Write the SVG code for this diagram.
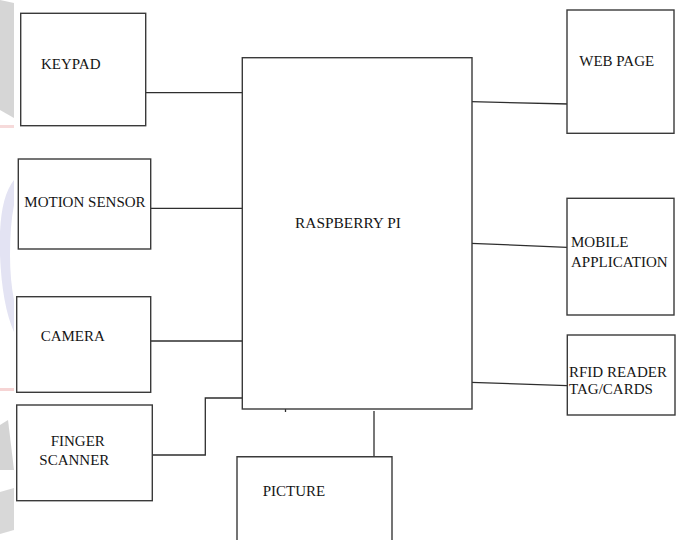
<svg xmlns="http://www.w3.org/2000/svg" width="681" height="540" viewBox="0 0 681 540">
<style>
.box{fill:#fff;stroke:#3a3a3a;stroke-width:1.4}
.lbl{font-family:"Liberation Serif","Times New Roman",serif;font-size:15px;fill:#151515}
.wire{fill:none;stroke:#2e2e2e;stroke-width:1.3}
.wm{stroke:none}
</style>
<rect width="681" height="540" fill="#fff"/>
<g id="watermark" opacity="0.9">
<polygon class="wm" points="0,0 14,3 14,118 0,110" fill="#d2d2d2"/>
<rect class="wm" x="0" y="125" width="14" height="3" fill="#f6d6d6"/>
<path class="wm" d="M14,180 Q-2,200 0,255 Q2,305 14,332 L14,300 Q10,280 10,255 Q10,225 14,205 Z" fill="#e0e0f2"/>
<rect class="wm" x="0" y="388" width="14" height="3" fill="#f6d0d0"/>
<polygon class="wm" points="0,425 8,420 14,470 0,470" fill="#d0d0d0"/>
<polygon class="wm" points="0,492 14,488 14,530 0,534" fill="#d4d4d4"/>
</g>
<g id="connectors">
<line class="wire" x1="145" y1="92.7" x2="242" y2="92.7"/>
<line class="wire" x1="150.7" y1="208.3" x2="244" y2="208.3"/>
<line class="wire" x1="148.3" y1="341" x2="242" y2="341"/>
<polyline class="wire" points="152.3,455 205.3,455 205.3,398 242,398"/>
<line class="wire" x1="285.5" y1="409" x2="285.5" y2="412"/>
<line class="wire" x1="374" y1="411" x2="374" y2="457"/>
<line class="wire" x1="471" y1="101.7" x2="569" y2="104"/>
<line class="wire" x1="471" y1="243.3" x2="567" y2="247.3"/>
<line class="wire" x1="471" y1="382.3" x2="567" y2="385.7"/>
</g>
<g id="keypad">
<rect class="box" x="20.7" y="13.3" width="125" height="112.4"/>
<text class="lbl" x="41" y="69">KEYPAD</text>
</g>
<g id="motion-sensor">
<rect class="box" x="18.3" y="159" width="132.4" height="90"/>
<text class="lbl" x="24.3" y="206.7">MOTION SENSOR</text>
</g>
<g id="camera">
<rect class="box" x="16.7" y="296.7" width="134" height="95.6"/>
<text class="lbl" x="40.7" y="341">CAMERA</text>
</g>
<g id="finger-scanner">
<rect class="box" x="16.7" y="405" width="135.6" height="95.7"/>
<text class="lbl" x="50.7" y="445.7">FINGER</text>
<text class="lbl" x="39.3" y="465">SCANNER</text>
</g>
<g id="raspberry-pi">
<rect class="box" x="242.3" y="57.7" width="229.7" height="351.3"/>
<text class="lbl" x="295" y="227.7" style="font-size:15.4px">RASPBERRY PI</text>
</g>
<g id="picture">
<path class="box" d="M237,545 L237,456.7 L392,456.7 L392,545"/>
<text class="lbl" x="262.7" y="495.7">PICTURE</text>
</g>
<g id="web-page">
<rect class="box" x="567" y="10" width="107" height="123.3"/>
<text class="lbl" x="579.3" y="65.7">WEB PAGE</text>
</g>
<g id="mobile-application">
<rect class="box" x="567" y="198.3" width="107" height="116.7"/>
<text class="lbl" x="571" y="246.7">MOBILE</text>
<text class="lbl" x="571" y="266.7">APPLICATION</text>
</g>
<g id="rfid-reader">
<rect class="box" x="567.3" y="335" width="107.7" height="80"/>
<text class="lbl" x="569" y="376.7">RFID READER</text>
<text class="lbl" x="569" y="394.3">TAG/CARDS</text>
</g>
</svg>
